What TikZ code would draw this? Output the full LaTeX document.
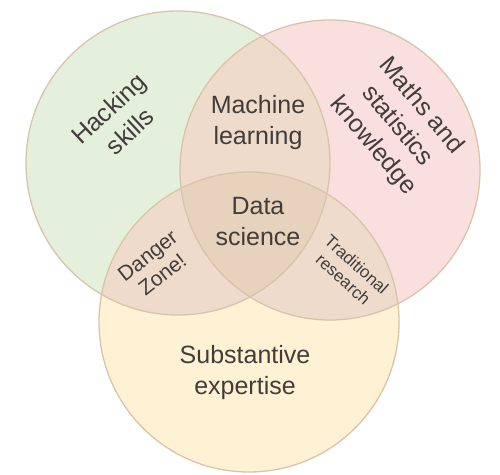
\documentclass[tikz,border=0pt]{standalone}
\usepackage{fontspec}
\setmainfont{Liberation Sans}
\usetikzlibrary{positioning}
\definecolor{verde}{RGB}{228,240,220}
\definecolor{rosa}{RGB}{249,224,222}
\definecolor{amarillo}{RGB}{255,241,211}
\definecolor{cruce}{RGB}{238,219,203}
\definecolor{centro}{RGB}{230,210,189}
\definecolor{borde}{RGB}{216,196,170}
\definecolor{texto}{RGB}{66,61,58}
\tikzstyle{conjunto} = [circle, inner sep=0pt, minimum size=300pt]
\tikzstyle{contorno} = [draw=borde, line width=1.3pt]
\tikzstyle{etiqueta} = [text=texto, align=center, inner sep=0pt, font=\fontsize{25}{31}\selectfont]
\tikzstyle{chica} = [text=texto, align=center, inner sep=0pt, font=\fontsize{21}{24}\selectfont]
\tikzstyle{mini} = [text=texto, align=center, inner sep=0pt, font=\fontsize{17}{20}\selectfont]

\begin{document}
\begin{tikzpicture}[x=1pt, y=1pt]
	\useasboundingbox (0,0) rectangle (500,474);
	\node[conjunto, fill=verde, minimum size=304pt] (hacking) at (178,311) {};
	\node[conjunto, fill=rosa] (mates) at (330,304) {};
	\node[conjunto, fill=amarillo] (sustantivo) at (249,152) {};
	% zonas de cruce
	\begin{scope}
		\clip (hacking.center) circle (152pt);
		\fill[cruce] (mates.center) circle (150pt);
		\fill[cruce] (sustantivo.center) circle (150pt);
	\end{scope}
	\begin{scope}
		\clip (mates.center) circle (150pt);
		\fill[cruce] (sustantivo.center) circle (150pt);
		\clip (hacking.center) circle (152pt);
		\fill[centro] (sustantivo.center) circle (150pt);
	\end{scope}
	\draw[contorno] (hacking.center) circle (152pt);
	\draw[contorno] (mates.center) circle (150pt);
	\draw[contorno] (sustantivo.center) circle (150pt);
	\node[etiqueta, rotate=43] (hack) at (119,354) {Hacking\\skills};
	\node[etiqueta, rotate=-50] (mat) at (397,348) {Maths and\\statistics\\knowledge};
	\node[etiqueta] (ml) at (258,351) {Machine\\learning};
	\node[etiqueta] (ds) at (258,252) {Data\\science};
	\node[chica, rotate=38] (peligro) at (155,209) {Danger\\Zone!};
	\node[mini, rotate=-42] (trad) at (350,202) {Traditional\\research};
	\node[etiqueta] (exp) at (245,101) {Substantive\\expertise};
\end{tikzpicture}
\end{document}
